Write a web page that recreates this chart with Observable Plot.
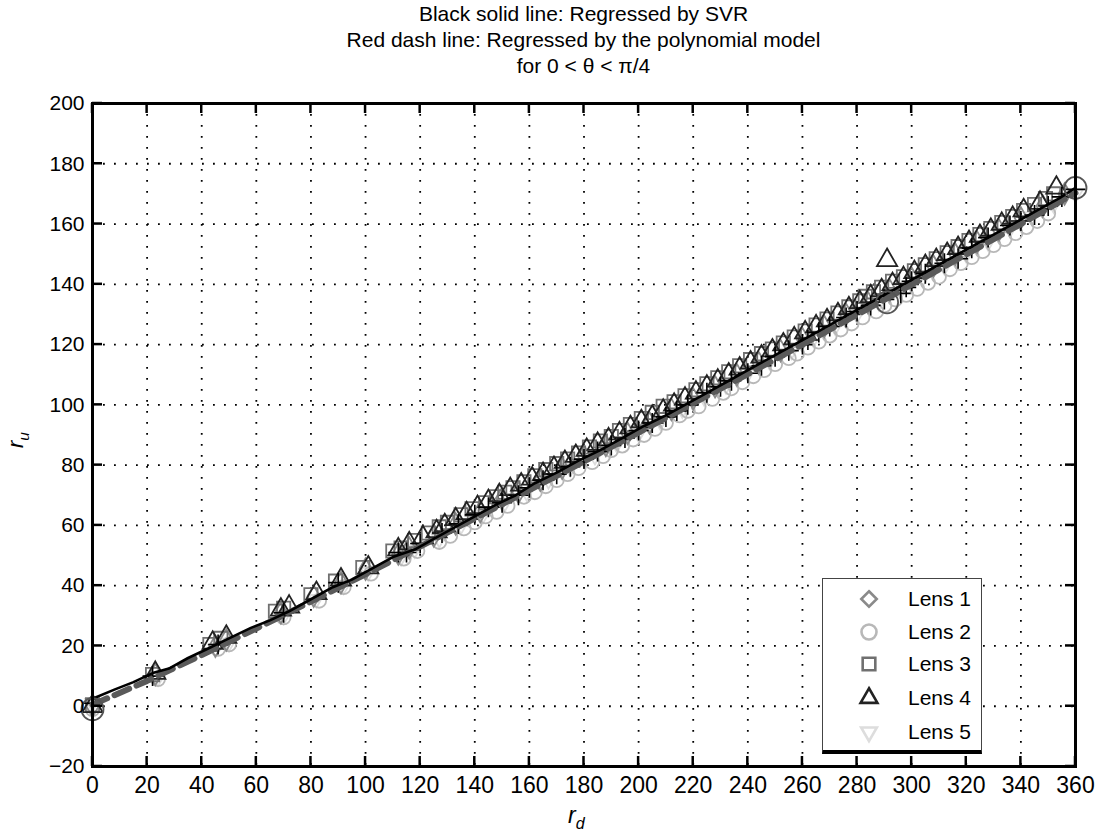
<!DOCTYPE html>
<html><head><meta charset="utf-8">
<script src="https://cdn.jsdelivr.net/npm/d3@7"></script>
<script src="https://cdn.jsdelivr.net/npm/@observablehq/plot@0.6"></script>
<style>
body{margin:0;background:#fff;font-family:"Liberation Sans",Arial,sans-serif;color:#000;}
#wrap{position:relative;width:1102px;height:837px;overflow:hidden;background:#fff;}
#title{height:80px;box-sizing:border-box;padding:1px 27px 0 92px;text-align:center;font-size:21px;line-height:26px;}
#chart svg{display:block;}
#ylab{position:absolute;left:6px;top:425px;font-style:italic;font-size:22px;transform:rotate(-90deg);transform-origin:center;width:24px;text-align:center;}
#xlab{position:absolute;left:568px;top:802px;font-style:italic;font-size:23px;font-family:"Liberation Sans Narrow","Liberation Sans",sans-serif;}
sub{font-size:70%;vertical-align:-6px;}
#legend{position:absolute;left:822px;top:578px;width:158px;height:171px;background:#fff;border:1px solid #444;border-bottom:4px solid #000;}
.le{position:absolute;left:0;height:30px;width:158px;}
.le svg{position:absolute;left:31px;top:0;}
.le span{position:absolute;left:85px;top:2px;font-size:21px;line-height:26px;}
</style></head><body>
<div id="wrap">
<div id="title"><div>Black solid line: Regressed by SVR</div><div>Red dash line: Regressed by the polynomial model</div><div>for 0 &lt; θ &lt; π/4</div></div>
<div id="chart"></div>
<div id="ylab">r<sub>u</sub></div>
<div id="xlab">r<sub>d</sub></div>
<div id="legend"></div>
</div>
<script>
// ---- data ----
const xTicks = [0,20,40,60,80,100,120,140,160,180,200,220,240,260,280,300,320,340,360];
const yTicks = [-20,0,20,40,60,80,100,120,140,160,180,200];

const lensNames = ["Lens 1","Lens 2","Lens 3","Lens 4","Lens 5"];

const lens1 = [[0,0],[23,10.5],[45,20],[49,22],[69,31],[81,36.5],[91,41],[100,45.5],[112,50.5],[116,52.5],[125,56.5],[133,60.5],[142,64.5],[150,69],[156,71],[164,75],[172,79],[180,83],[188,86.5],[196,90.5],[204,94],[212,98.5],[220,102],[228,106],[236,110],[244,114],[252,118],[260,122],[268,126],[276,130],[284,134],[292,138],[300,142],[308,146],[316,150],[324,154],[332,158],[340,162],[348,166],[356,170]];
const lens2 = [[0,-1],[24,9],[46,19],[50,20.5],[70,29.5],[83,35],[92,39.5],[102,44],[114,49],[119,51.5],[127,54.5],[131,56.5],[136,59],[140,61],[144,63],[148,64.5],[152,66.5],[158,69.5],[162,71],[166,73],[170,75],[174,77],[178,79],[183,81],[187,83],[190,85],[194,86.5],[198,88.5],[202,90],[206,92],[210,94],[215,96.5],[218,98],[222,99.5],[227,102],[231,104],[234,105.5],[238,107.5],[242,109.5],[246,111.5],[250,113.5],[255,115.5],[258,117],[262,119],[266,121],[270,123],[274,125],[278,127],[282,129],[287,131],[290,133],[294,135],[298,136.5],[302,138.5],[306,140.5],[310,142.5],[314,145],[318,147],[322,149],[326,151],[330,153],[334,155],[338,157],[342,159],[346,161],[350,163.5]];
const lens3 = [[0,0.5],[22,10.5],[43,20.5],[47,22.5],[67,31.5],[70,32.5],[80,37],[89,41.5],[99,46],[110,51.5],[113,52.5],[118,55],[123,57.5],[127,59.5],[130,61],[135,63.5],[139,65.5],[144,67.5],[148,69.5],[151,71],[154,72.5],[158,74.5],[162,76.5],[166,78.5],[170,80.5],[174,82],[178,84],[182,86],[186,88],[190,89.5],[193,91.5],[197,93.5],[201,95.5],[205,97.5],[209,99.5],[213,101],[217,103],[221,105],[225,107],[229,109],[233,111],[237,113],[241,115],[245,117],[249,118.5],[253,120.5],[257,122.5],[261,124.5],[265,126.5],[269,128.5],[273,130.5],[277,132.5],[281,134.5],[283,136],[286,137.5],[289,139],[293,141],[297,142.5],[301,144.5],[305,146.5],[309,148.5],[313,150.5],[317,152.5],[321,154.5],[325,156.5],[329,158.5],[333,160.5],[337,162.5],[341,164.5],[345,166.5],[349,168.5],[352,170]];
const lens4 = [[0,0],[23,11],[44,21],[49,23],[69,32],[72,33],[82,37.5],[91,42],[101,46],[112,52],[116,54],[121,56],[126,58],[129,60],[133,62],[137,64],[141,66],[145,68],[149,70],[153,72],[157,73.5],[161,75.5],[165,77],[169,79],[173,81],[177,83],[181,85],[185,87],[189,88.5],[193,90.5],[197,92.5],[201,94.5],[205,96],[209,98],[213,100],[217,102],[221,104],[225,106],[229,108],[233,110],[237,112],[241,114],[245,116],[249,118],[253,120],[257,122],[261,124],[265,126],[269,128],[273,130],[277,132],[281,134],[285,136],[289,138],[291,148],[293,140],[297,142],[301,144],[305,146],[309,148],[313,150],[317,152],[321,154],[325,156],[329,158],[333,160],[337,162],[341,164.5],[347,167],[353,172]];
const lens5 = [[0,1],[24,9.5],[45,19],[50,21],[70,30],[82,35.5],[92,40],[101,44.5],[113,49.5],[118,52],[127,55.5],[135,60],[143,63.5],[151,67.5],[159,71],[167,75],[175,79],[184,83],[192,87],[200,90.5],[208,94.5],[216,98.5],[224,102.5],[232,106.5],[240,110.5],[248,114.5],[256,118],[264,122],[272,126],[280,130],[288,134],[296,138],[304,142],[312,146],[320,150],[328,154],[336,158.5],[344,162.5],[352,166.5],[360,170]];

const svrPoints = [[0,1],[22,10],[46,20.5],[70,31],[90,41],[112,51],[115,51],[120,54],[128,57.5],[134,60.5],[140,63.5],[145,66],[150,67.5],[156,70],[160,72.5],[165,75],[170,77],[175,79.5],[180,82],[185,84.5],[190,86.5],[195,89],[200,91.5],[205,94],[210,96],[214,98],[218,100],[225,104],[230,106],[234,108],[240,110.5],[245,113],[250,116],[255,118],[260,120],[262,121.5],[266,124],[270,126],[276,129],[280,131],[285,133],[290,135],[296,137],[298,139],[300,141],[305,143.5],[312,147],[317,148.5],[322,152],[328,155.5],[336,159.5],[340,161],[345,163],[350,166],[355,169],[360,171.5]];
const bigCircles = [[0,-1],[291,134],[360,172]];

const svrLine = [[0,2.5],[8,5.5],[15,8],[22,11],[28,12.5],[35,16],[42,19],[50,22.5],[58,26],[65,28.5],[72,31.5],[80,35.5],[88,39.5],[95,42],[102,45.5],[110,49.5],[118,52],[125,55.5],[132,59],[140,63],[148,67],[155,70],[162,74],[170,77.5],[178,81.5],[186,85],[194,89],[202,93],[210,96.5],[218,100.5],[226,104.5],[234,108.5],[242,112.5],[250,116.5],[258,120.5],[266,124.5],[274,128.5],[282,132.5],[290,136.5],[298,140.5],[306,144.5],[314,148.5],[322,152.5],[330,156.5],[338,160.5],[346,164.5],[354,168.5],[360,172]];
const polyX = [0,20,40,60,80,100,120,140,160,180,200,220,240,260,280,300,320,340,360];
const polyY = [0.5,8.4,17.0,25.8,34.7,43.8,53.0,62.3,71.7,81.2,90.8,100.5,110.2,120.0,129.9,139.9,149.9,160.0,170.3];

// ---- styling ----
const triDown = {draw(ctx, size){const s=Math.sqrt(size)*0.6824, t=s/2, u=s*Math.sqrt(3)/2; ctx.moveTo(0,s); ctx.lineTo(u,-t); ctx.lineTo(-u,-t); ctx.closePath();}};
const lensStyle = [
  {symbol:"diamond", stroke:"#8a8a8a", r:6.5},
  {symbol:"circle", stroke:"#b8b8b8", r:7},
  {symbol:"square", stroke:"#707070", r:7.5},
  {symbol:"triangle", stroke:"#222222", r:7.5},
  {symbol:triDown, stroke:"#dddddd", r:7}
];
const lensData = [lens1,lens2,lens3,lens4,lens5];
const drawOrder = [4,1,0,2,3];
const [x0, x1] = [xTicks[0], xTicks[xTicks.length-1]];
const [y0, y1] = [yTicks[0], yTicks[yTicks.length-1]];
const TICK = 10; // inward tick length in pixels

const marks = [
  Plot.gridX(xTicks, {stroke:"#000", strokeOpacity:1, strokeWidth:1.8, strokeDasharray:"1.8,9.2"}),
  Plot.gridY(yTicks, {stroke:"#000", strokeOpacity:1, strokeWidth:1.8, strokeDasharray:"1.8,9.2"})
];
for (const i of drawOrder) {
  const st = lensStyle[i];
  marks.push(Plot.dot(lensData[i], {x:d=>d[0], y:d=>d[1], symbol:()=>st.symbol, r:st.r, stroke:st.stroke, strokeWidth:1.8, fill:"none"}));
}
// inward ticks as a custom render function using the plot's scales
const inwardTicks = (index, scales, values, dims) => {
  const g = d3.create("svg:g").attr("stroke","#000").attr("stroke-width",2.5);
  const top = dims.marginTop, bottom = dims.height - dims.marginBottom;
  const left = dims.marginLeft, right = dims.width - dims.marginRight;
  for (const t of xTicks) {
    const px = scales.x(t);
    g.append("line").attr("x1",px).attr("x2",px).attr("y1",bottom).attr("y2",bottom-TICK);
    g.append("line").attr("x1",px).attr("x2",px).attr("y1",top).attr("y2",top+TICK);
  }
  for (const t of yTicks) {
    const py = scales.y(t);
    g.append("line").attr("y1",py).attr("y2",py).attr("x1",left).attr("x2",left+TICK);
    g.append("line").attr("y1",py).attr("y2",py).attr("x1",right).attr("x2",right-TICK);
  }
  return g.node();
};
marks.push(
  Plot.dot(svrPoints, {x:d=>d[0], y:d=>d[1], symbol:"plus", r:6.5, stroke:"#000", strokeWidth:1.6}),
  Plot.line(polyX.map((x,i)=>[x,polyY[i]]), {x:d=>d[0], y:d=>d[1], stroke:"#5a5a5a", strokeWidth:6, strokeDasharray:"16,8"}),
  Plot.line(svrLine, {x:d=>d[0], y:d=>d[1], stroke:"#000", strokeWidth:2.6}),
  Plot.dot(bigCircles, {x:d=>d[0], y:d=>d[1], r:11, stroke:"#555", strokeWidth:1.8, fill:"none"}),
  inwardTicks,
  Plot.frame({stroke:"#000", strokeWidth:3}),
  Plot.axisX(xTicks, {anchor:"bottom", tickSize:0, tickPadding:10, fontSize:23, fontFamily:"'Liberation Sans Narrow','Liberation Sans',sans-serif", label:null}),
  Plot.axisY(yTicks, {anchor:"left", tickSize:0, tickPadding:8, fontSize:21, fontFamily:"'Liberation Sans',Arial,sans-serif", label:null})
);

const chart = Plot.plot({
  width:1102, height:757,
  marginTop:23, marginBottom:71, marginLeft:92, marginRight:27,
  x:{domain:[x0,x1]},
  y:{domain:[y0,y1]},
  style:{background:"#fff", color:"#000", overflow:"visible"},
  marks
});
document.getElementById("chart").appendChild(chart);

// ---- legend ----
const leg = document.getElementById("legend");
const legY = [5, 38, 70, 104, 138];
lensNames.forEach((name,i)=>{
  const st = lensStyle[i];
  const div = document.createElement("div");
  div.className = "le";
  div.style.top = legY[i] + "px";
  const svg = d3.create("svg").attr("width",30).attr("height",30);
  const sym = typeof st.symbol === "string"
    ? {diamond:d3.symbolDiamond2, circle:d3.symbolCircle, square:d3.symbolSquare2, triangle:d3.symbolTriangle2}[st.symbol]
    : st.symbol;
  svg.append("path").attr("transform","translate(15,15)")
    .attr("d", d3.symbol(sym, Math.PI*st.r*st.r*1.15)())
    .attr("fill","none").attr("stroke", st.stroke).attr("stroke-width", 2.6);
  div.appendChild(svg.node());
  const sp = document.createElement("span");
  sp.textContent = name;
  div.appendChild(sp);
  leg.appendChild(div);
});
</script>
</body></html>
